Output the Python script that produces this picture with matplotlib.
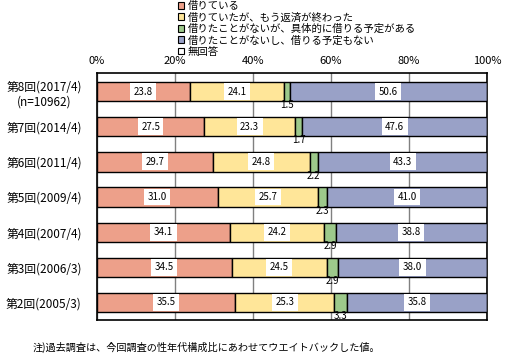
import matplotlib
matplotlib.use("Agg")
import matplotlib.pyplot as plt
from matplotlib.patches import Patch

plt.rcParams["font.family"] = ["Noto Sans CJK JP", "DejaVu Sans"]

rounds = ["第8回(2017/4)\n(n=10962)", "第7回(2014/4)", "第6回(2011/4)",
          "第5回(2009/4)", "第4回(2007/4)", "第3回(2006/3)", "第2回(2005/3)"]
borrowing = [23.8, 27.5, 29.7, 31.0, 34.1, 34.5, 35.5]
repaid = [24.1, 23.3, 24.8, 25.7, 24.2, 24.5, 25.3]
plan = [1.5, 1.7, 2.2, 2.3, 2.9, 2.9, 3.3]
no_plan = [50.6, 47.6, 43.3, 41.0, 38.8, 38.0, 35.8]
no_answer = [0.0, 0.0, 0.0, 0.0, 0.0, 0.0, 0.0]

series_names = ["借りている", "借りていたが、もう返済が終わった",
                "借りたことがないが、具体的に借りる予定がある",
                "借りたことがないし、借りる予定もない", "無回答"]
colors = ["#EDA08A", "#FFE699", "#9DC98B", "#99A1C7", "#FFFFFF"]
xticks = [0, 20, 40, 60, 80, 100]
note = "注)過去調査は、今回調査の性年代構成比にあわせてウエイトバックした値。"

fig = plt.figure(figsize=(5.13, 3.58), dpi=100)
ax = fig.add_axes([97 / 513, 1 - 320 / 358, 390 / 513, 247 / 358])

series = [borrowing, repaid, plan, no_plan, no_answer]
ypos = list(range(len(rounds)))
h = 0.55
left = [0.0] * len(rounds)
for k, vals in enumerate(series):
    ax.barh(ypos, vals, left=left, height=h, color=colors[k],
            edgecolor="black", linewidth=1.0, zorder=3)
    for i, v in enumerate(vals):
        cx = left[i] + v / 2
        if k == 2:
            # small values sit just under the bar
            ax.text(cx, i + h / 2 - 0.03, f"{v:.1f}", ha="center", va="top",
                    fontsize=7, zorder=5)
        elif k < 4 and v > 0:
            ax.text(cx, i, f"{v:.1f}", ha="center", va="center", fontsize=7,
                    zorder=5,
                    bbox=dict(boxstyle="square,pad=0.35", fc="white", ec="none"))
    left = [a + b for a, b in zip(left, vals)]

ax.set_xlim(0, 100)
ax.set_ylim(len(rounds) - 0.5, -0.53)
ax.set_xticks(xticks)
ax.set_xticklabels([f"{t}%" for t in xticks], fontsize=8)
ax.xaxis.tick_top()
ax.tick_params(axis="x", length=0, pad=5)
ax.set_yticks(ypos)
ax.set_yticklabels(rounds, fontsize=8.5, multialignment="center")
ax.tick_params(axis="y", length=0, pad=11)
ax.grid(axis="x", color="#808080", linewidth=1.0, zorder=1)
for s in ax.spines.values():
    s.set_linewidth(1.2)

handles = [Patch(facecolor=c, edgecolor="black", linewidth=0.8) for c in colors]
fig.legend(handles, series_names, loc="upper left",
           bbox_to_anchor=(178 / 513, 1 - 1 / 358), frameon=False, fontsize=7.5,
           handlelength=0.6, handleheight=0.6, handletextpad=0.3,
           labelspacing=0.12, borderpad=0.0, borderaxespad=0.0)

fig.text(33 / 513, 1 - 347 / 358, note, fontsize=7.3, va="center", ha="left")

fig.savefig("out.png", dpi=100)
